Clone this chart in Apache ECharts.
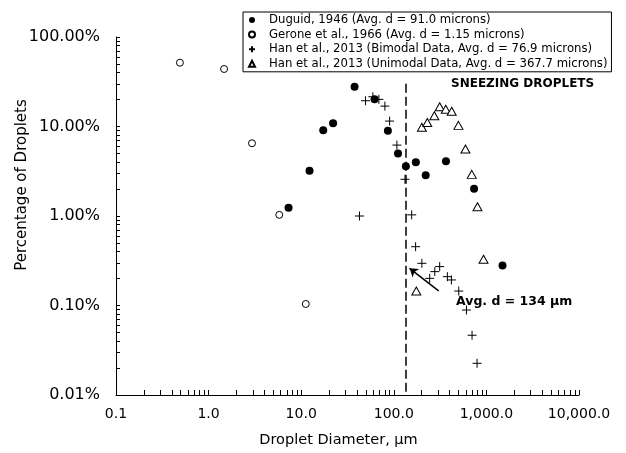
<!DOCTYPE html>
<html><head><meta charset="utf-8">
<script src="https://cdn.jsdelivr.net/npm/echarts@6/dist/echarts.min.js"></script>
<style>html,body{margin:0;padding:0;background:#fff}#c{width:626px;height:453px}</style>
</head><body><div id="c"></div>
<script>
// ---- data ----
const duguidX = [7.3, 12.3, 17.3, 22.1, 37.7, 62, 86.3, 111, 135, 173, 221, 366, 736, 1493];
const duguidY = [1.24, 3.2, 9.1, 10.9, 27.8, 20.1, 8.97, 5.0, 3.6, 3.98, 2.85, 4.1, 2.02, 0.279];
const geroneX = [0.49, 1.47, 2.94, 5.8, 11.2];
const geroneY = [51.6, 43.9, 6.5, 1.03, 0.104];
const bimodalX = [42.6, 49.5, 59.4, 69, 80.1, 90.1, 108, 132, 156, 172, 201, 244, 277, 313, 379, 419, 503, 609, 700, 793];
const bimodalY = [1.0, 19.4, 21.5, 20.1, 16.9, 11.5, 6.2, 2.57, 1.03, 0.454, 0.296, 0.201, 0.239, 0.272, 0.21, 0.193, 0.145, 0.089, 0.0465, 0.0226];
const unimodalX = [175, 201, 230, 274, 313, 364, 422, 499, 594, 695, 801, 931];
const unimodalY = [0.145, 9.8, 11.1, 13.2, 16.6, 15.6, 14.8, 10.3, 5.6, 2.92, 1.27, 0.328];
const seriesNames = [
  'Duguid, 1946 (Avg. d = 91.0 microns)',
  'Gerone et al., 1966 (Avg. d = 1.15 microns)',
  'Han et al., 2013 (Bimodal Data, Avg. d = 76.9 microns)',
  'Han et al., 2013 (Unimodal Data, Avg. d = 367.7 microns)'
];
const xTickValues = [0.1, 1, 10, 100, 1000, 10000];
const xTickLabels = ['0.1', '1.0', '10.0', '100.0', '1,000.0', '10,000.0'];
const yTickValues = [0.01, 0.1, 1, 10, 100];
const yTickLabels = ['0.01%', '0.10%', '1.00%', '10.00%', '100.00%'];
const avgD = 134;            // dashed vertical line
const avgLineTop = 30;       // top of dashed line (%)
const arrowFrom = [305, 0.146];
const arrowTo = [148, 0.26];
const xTitle = 'Droplet Diameter, \u00b5m';
const yTitle = 'Percentage of Droplets';
const note1 = 'SNEEZING DROPLETS';
const note2 = 'Avg. d = 134 \u00b5m';

function logMinorTicks(lo, hi) {
  const out = [];
  for (let e = Math.round(Math.log10(lo)); e < Math.round(Math.log10(hi)); e++) {
    for (let k = 1; k <= 9; k++) out.push(+(k * Math.pow(10, e)).toPrecision(6));
  }
  out.push(hi);
  return out;
}
function labelFor(values, labels) {
  return function (v) {
    const e = Math.round(Math.log10(v));
    const i = values.findIndex(t => Math.round(Math.log10(t)) === e);
    return i >= 0 ? labels[i] : '';
  };
}
const zip = (a, b) => a.map((v, i) => [v, b[i]]);
const FONT = 'DejaVu Sans';
const plusPath = 'path://M0,5L10,5M5,0L5,10';

const chart = echarts.init(document.getElementById('c'), null, {renderer: 'canvas'});
chart.setOption({
  animation: false,
  backgroundColor: '#fff',
  textStyle: {fontFamily: FONT, color: '#000'},
  grid: {left: 116, right: 47, top: 37, bottom: 58},
  legend: {
    orient: 'vertical', left: 243, top: 12,
    backgroundColor: '#fff', borderColor: '#000', borderWidth: 1,
    padding: [1, 4, 1, 5], itemGap: 0.6, itemWidth: 6, itemHeight: 6,
    textStyle: {fontFamily: FONT, fontSize: 11.7, color: '#000', lineHeight: 14, padding: [0, 0, 0, 9]},
    data: seriesNames
  },
  xAxis: {
    type: 'log', logBase: 10, min: 0.1, max: 10000,
    name: xTitle, nameLocation: 'middle', nameGap: 38,
    nameTextStyle: {fontFamily: FONT, fontSize: 14.5, color: '#000', padding: [0, 18, 0, 0]},
    axisLine: {show: true, lineStyle: {color: '#000', width: 1}},
    axisTick: {show: true, inside: true, length: 5, lineStyle: {color: '#000'}, customValues: logMinorTicks(0.1, 10000)},
    axisLabel: {fontFamily: FONT, fontSize: 14, color: '#000', margin: 12, customValues: xTickValues, formatter: labelFor(xTickValues, xTickLabels)},
    splitLine: {show: false}
  },
  yAxis: {
    type: 'log', logBase: 10, min: 0.01, max: 100,
    axisLine: {show: true, lineStyle: {color: '#000', width: 1}},
    axisTick: {show: true, inside: true, length: 4, lineStyle: {color: '#000'}, customValues: logMinorTicks(0.01, 100)},
    axisLabel: {fontFamily: FONT, fontSize: 16, color: '#000', margin: 16, customValues: yTickValues, formatter: labelFor(yTickValues, yTickLabels)},
    splitLine: {show: false}
  },
  series: [
    {
      name: seriesNames[0], type: 'scatter', symbol: 'circle', symbolSize: 8,
      itemStyle: {color: '#000', borderColor: '#000', borderWidth: 0, opacity: 1},
      data: zip(duguidX, duguidY), z: 4,
      markLine: {
        silent: true, symbol: 'none', label: {show: false},
        lineStyle: {color: '#000', width: 1.5, type: [9, 4]},
        data: [[{coord: [avgD, avgLineTop]}, {coord: [avgD, 0.01]}]]
      }
    },
    {
      name: seriesNames[1], type: 'scatter', symbol: 'circle', symbolSize: 7,
      itemStyle: {color: '#fff', borderColor: '#000', borderWidth: 1, opacity: 1},
      data: zip(geroneX, geroneY), z: 3
    },
    {
      name: seriesNames[2], type: 'scatter', symbol: plusPath, symbolSize: 9,
      itemStyle: {color: 'rgba(0,0,0,0)', borderColor: '#000', borderWidth: 1, opacity: 1},
      data: zip(bimodalX, bimodalY), z: 3,
      markLine: {
        silent: true, symbol: ['none', 'arrow'], symbolSize: 8, label: {show: false},
        lineStyle: {color: '#000', width: 1.5, type: 'solid'},
        data: [[{coord: arrowFrom}, {coord: arrowTo}]]
      }
    },
    {
      name: seriesNames[3], type: 'scatter', symbol: 'triangle', symbolSize: [9, 8],
      itemStyle: {color: '#fff', borderColor: '#000', borderWidth: 1, opacity: 1},
      data: zip(unimodalX, unimodalY), z: 3
    }
  ],
  graphic: [
    {type: 'text', x: 22, y: 185, rotation: Math.PI / 2,
     style: {text: yTitle, font: '15px "DejaVu Sans"', fill: '#000', align: 'center', verticalAlign: 'middle'}},
    {type: 'text', left: 451, top: 78, style: {text: note1, font: 'bold 12px "DejaVu Sans"', fill: '#000'}},
    {type: 'text', left: 456, top: 295, style: {text: note2, font: 'bold 12.5px "DejaVu Sans"', fill: '#000'}}
  ]
});
</script>
</body></html>
